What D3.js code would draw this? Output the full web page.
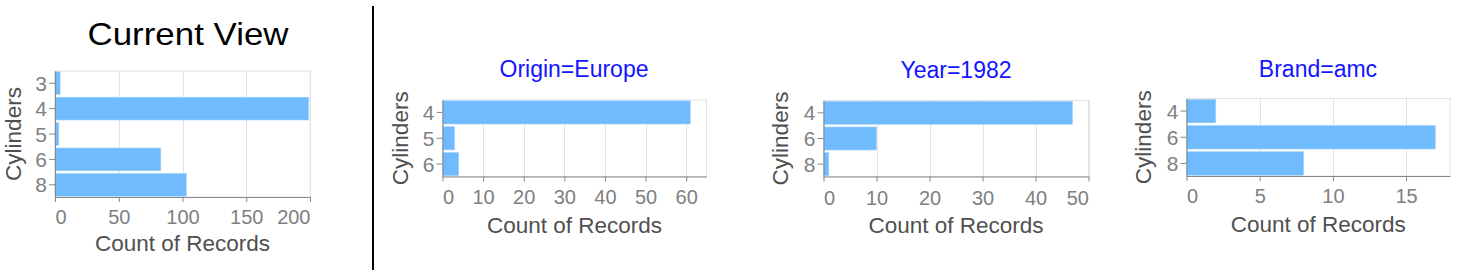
<!DOCTYPE html>
<html>
<head>
<meta charset="utf-8">
<script src="https://cdn.jsdelivr.net/npm/d3@7"></script>
<style>
  body { margin: 0; background: #fff; }
  svg { display: block; font-family: "Liberation Sans", Arial, sans-serif; }
</style>
</head>
<body>
<svg id="chart" width="1472" height="270"></svg>
<script>
// data
const cylCurrent = ["3", "4", "5", "6", "8"];
const countCurrent = [4, 199, 3, 83, 103];
const cylEurope = ["4", "5", "6"];
const countEurope = [61, 3, 4];
const cyl1982 = ["4", "6", "8"];
const count1982 = [47, 10, 1];
const cylAmc = ["4", "6", "8"];
const countAmc = [2, 17, 8];

const ticksCurrent = [0, 50, 100, 150, 200];
const ticksEurope = [0, 10, 20, 30, 40, 50, 60];
const ticks1982 = [0, 10, 20, 30, 40, 50];
const ticksAmc = [0, 5, 10, 15];

const panelTitles = ["Current View", "Origin=Europe", "Year=1982", "Brand=amc"];

const barColor = "#6fbbfd";
const svg = d3.select("#chart");

// layout for each panel (plot box, label positions)
const panels = [
  {title: panelTitles[0], cats: cylCurrent, vals: countCurrent, max: 200, ticks: ticksCurrent,
   x0: 55, x1: 310, y0: 71, y1: 197, tx: 188, ty: 45, ycx: 21, tickBase: 224, titleBase: 251, main: true},
  {title: panelTitles[1], cats: cylEurope, vals: countEurope, max: 65, ticks: ticksEurope,
   x0: 442.5, x1: 706.5, y0: 100, y1: 176.5, tx: 574, ty: 77, ycx: 408, tickBase: 203.5, titleBase: 232.5},
  {title: panelTitles[2], cats: cyl1982, vals: count1982, max: 50, ticks: ticks1982,
   x0: 823.5, x1: 1088.5, y0: 100.5, y1: 176.5, tx: 956, ty: 78, ycx: 788, tickBase: 205, titleBase: 233},
  {title: panelTitles[3], cats: cylAmc, vals: countAmc, max: 18, ticks: ticksAmc,
   x0: 1186.5, x1: 1450, y0: 98.5, y1: 176, tx: 1318, ty: 77, ycx: 1151, tickBase: 203, titleBase: 231.5}
];

panels.forEach(p => {
  const g = svg.append("g");
  const x = d3.scaleLinear().domain([0, p.max]).range([p.x0, p.x1]);
  const y = d3.scaleBand().domain(p.cats).range([p.y0, p.y1]).paddingInner(0.1).paddingOuter(0.03);

  // grid + frame
  g.append("g").selectAll("line").data(p.ticks).join("line")
      .attr("x1", d => Math.round(x(d)) + 0.5).attr("x2", d => Math.round(x(d)) + 0.5)
      .attr("y1", p.y0).attr("y2", p.y1)
      .attr("stroke", "#e2e2e2");
  g.append("rect")
      .attr("x", p.x0).attr("y", p.y0)
      .attr("width", p.x1 - p.x0).attr("height", p.y1 - p.y0)
      .attr("fill", "none").attr("stroke", "#e2e2e2");

  // bars
  g.append("g").selectAll("rect").data(p.cats).join("rect")
      .attr("x", x(0))
      .attr("y", d => y(d))
      .attr("width", (d, i) => x(p.vals[i]) - x(0))
      .attr("height", y.bandwidth())
      .attr("fill", barColor)
      .attr("stroke", "#a9d6fd")
      .attr("stroke-width", 0.6);

  // axes
  const xAxis = g.append("g")
      .attr("transform", `translate(0,${p.y1})`)
      .call(d3.axisBottom(x).tickValues(p.ticks).tickSize(5).tickSizeOuter(0).tickPadding(2));
  xAxis.select(".domain").attr("stroke", "#888");
  xAxis.selectAll(".tick line").attr("stroke", "#888");
  // first/last labels flush with the plot edges
  xAxis.selectAll(".tick text")
      .attr("y", null).attr("dy", null)
      .attr("transform", `translate(0,${p.tickBase - p.y1})`)
      .attr("text-anchor", d => d === 0 ? "start" : (d === p.max ? "end" : "middle"))
      .attr("fill", "#808080")
      .attr("font-size", 20);

  const yAxis = g.append("g")
      .attr("transform", `translate(${p.x0},0)`)
      .call(d3.axisLeft(y).tickSize(6).tickSizeOuter(0).tickPadding(2));
  yAxis.select(".domain").attr("stroke", "#888");
  yAxis.selectAll(".tick line").attr("stroke", "#888");
  yAxis.selectAll(".tick text")
      .attr("fill", "#808080")
      .attr("font-size", 21).attr("dy", "0.36em");

  // axis titles
  g.append("text")
      .attr("x", (p.x0 + p.x1) / 2 - 0).attr("y", p.titleBase)
      .attr("text-anchor", "middle")
      .attr("fill", "#505050").attr("font-size", 22.5)
      .text("Count of Records");
  g.append("text")
      .attr("transform", `translate(${p.ycx},${(p.y0 + p.y1) / 2}) rotate(-90)`)
      .attr("text-anchor", "middle")
      .attr("fill", "#505050").attr("font-size", 22.5)
      .text("Cylinders");

  // panel title
  const t = g.append("text")
      .attr("x", p.tx).attr("y", p.ty)
      .attr("text-anchor", "middle")
      .text(p.title);
  if (p.main) {
    t.attr("font-size", 32).attr("fill", "#000")
      .attr("textLength", 201).attr("lengthAdjust", "spacingAndGlyphs");
  } else {
    t.attr("font-size", 23).attr("fill", "#1414ff");
  }
});

// separator
svg.append("line")
    .attr("x1", 373).attr("x2", 373)
    .attr("y1", 6).attr("y2", 270)
    .attr("stroke", "#000").attr("stroke-width", 2);
</script>
</body>
</html>
